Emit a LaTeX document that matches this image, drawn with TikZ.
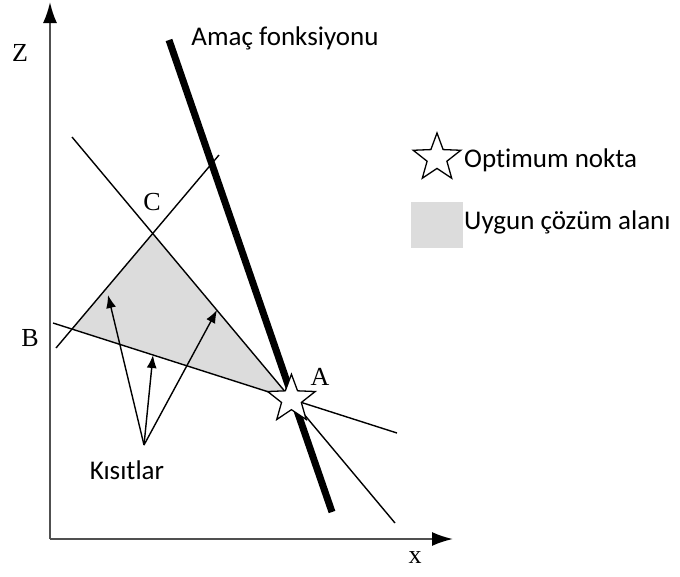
\documentclass[tikz,border=0pt]{standalone}
\usepackage{fontspec}
\setmainfont{Liberation Serif}
\newfontfamily\calibri[Ligatures=NoCommon]{Carlito}
\usetikzlibrary{arrows.meta, positioning, shapes.geometric}
\definecolor{feasGray}{HTML}{DCDCDC}
\definecolor{axisGray}{HTML}{505050}

\begin{document}
\begin{tikzpicture}[x=1pt, y=-1pt,
    every node/.style={font=\fontsize{26}{30}\selectfont, inner sep=0pt},
    sans/.style={font=\fontsize{27}{32}\selectfont\calibri},
    thinline/.style={line width=1.4pt},
    axisline/.style={axisGray, line width=2pt, -{Latex[length=21pt,width=14pt,black]}},
    optstar/.style={star, star points=5, star point ratio=2.4, draw, fill=white,
      line width=1.3pt, minimum size=50pt, inner sep=0pt}]
  \useasboundingbox (0,0) rectangle (680,576);
  % eksenler
  \coordinate (O) at (50,539);
  \draw[axisline] (O) -- (50,2) coordinate (ztip);
  \draw[axisline] (O) -- (453,539) coordinate (xtip);
  \node (zlbl) at (20,53) {Z};
  \node (xlbl) at (415,558) {x};
  % kisit dogrulari
  \coordinate (l1a) at (72,137);  \coordinate (l1b) at (395,523);
  \coordinate (l2a) at (56,348);  \coordinate (l2b) at (219,155);
  \coordinate (l3a) at (53,323);  \coordinate (l3b) at (397,433);
  \coordinate (C) at (intersection of l1a--l1b and l2a--l2b);
  \coordinate (A) at (intersection of l1a--l1b and l3a--l3b);
  \coordinate (Bv) at (intersection of l2a--l2b and l3a--l3b);
  \fill[feasGray] (C) -- (A) -- (Bv) -- cycle;
  \draw[thinline] (l1a) -- (l1b);
  \draw[thinline] (l2a) -- (l2b);
  \draw[thinline] (l3a) -- (l3b);
  % amac fonksiyonu
  \coordinate (oa) at (169,40); \coordinate (ob) at (332,512);
  \draw[line width=7pt] (oa) -- (ob);
  \node[sans] (amac) at (285,38) {Amaç fonksiyonu};
  \node[optstar] (optA) at (A) {};
  \node (albl) at (320,377) {A};
  \node (blbl) at (30,338) {B};
  \node (clbl) at (152,202) {C};
  % kisitlar
  \node[sans] (kisit) at (127,470) {Kısıtlar};
  \coordinate (kroot) at (144,445);
  \coordinate (t1) at (108,295);
  \coordinate (t2) at (153,355);
  \coordinate (t3) at (217,310);
  \foreach \t in {t1,t2,t3}
    \draw[thinline, -{Latex[length=13pt,width=10pt]}] (kroot) -- (\t);
  % lejant
  \node[optstar] (legstar) at (437,158) {};
  \node[sans, anchor=west] (optlbl) at (464,160) {Optimum nokta};
  \node[fill=feasGray, minimum width=52pt, minimum height=46pt] (legbox) at (437,225) {};
  \node[sans, anchor=west] (feaslbl) at (464,222) {Uygun çözüm alanı};
\end{tikzpicture}
\end{document}
